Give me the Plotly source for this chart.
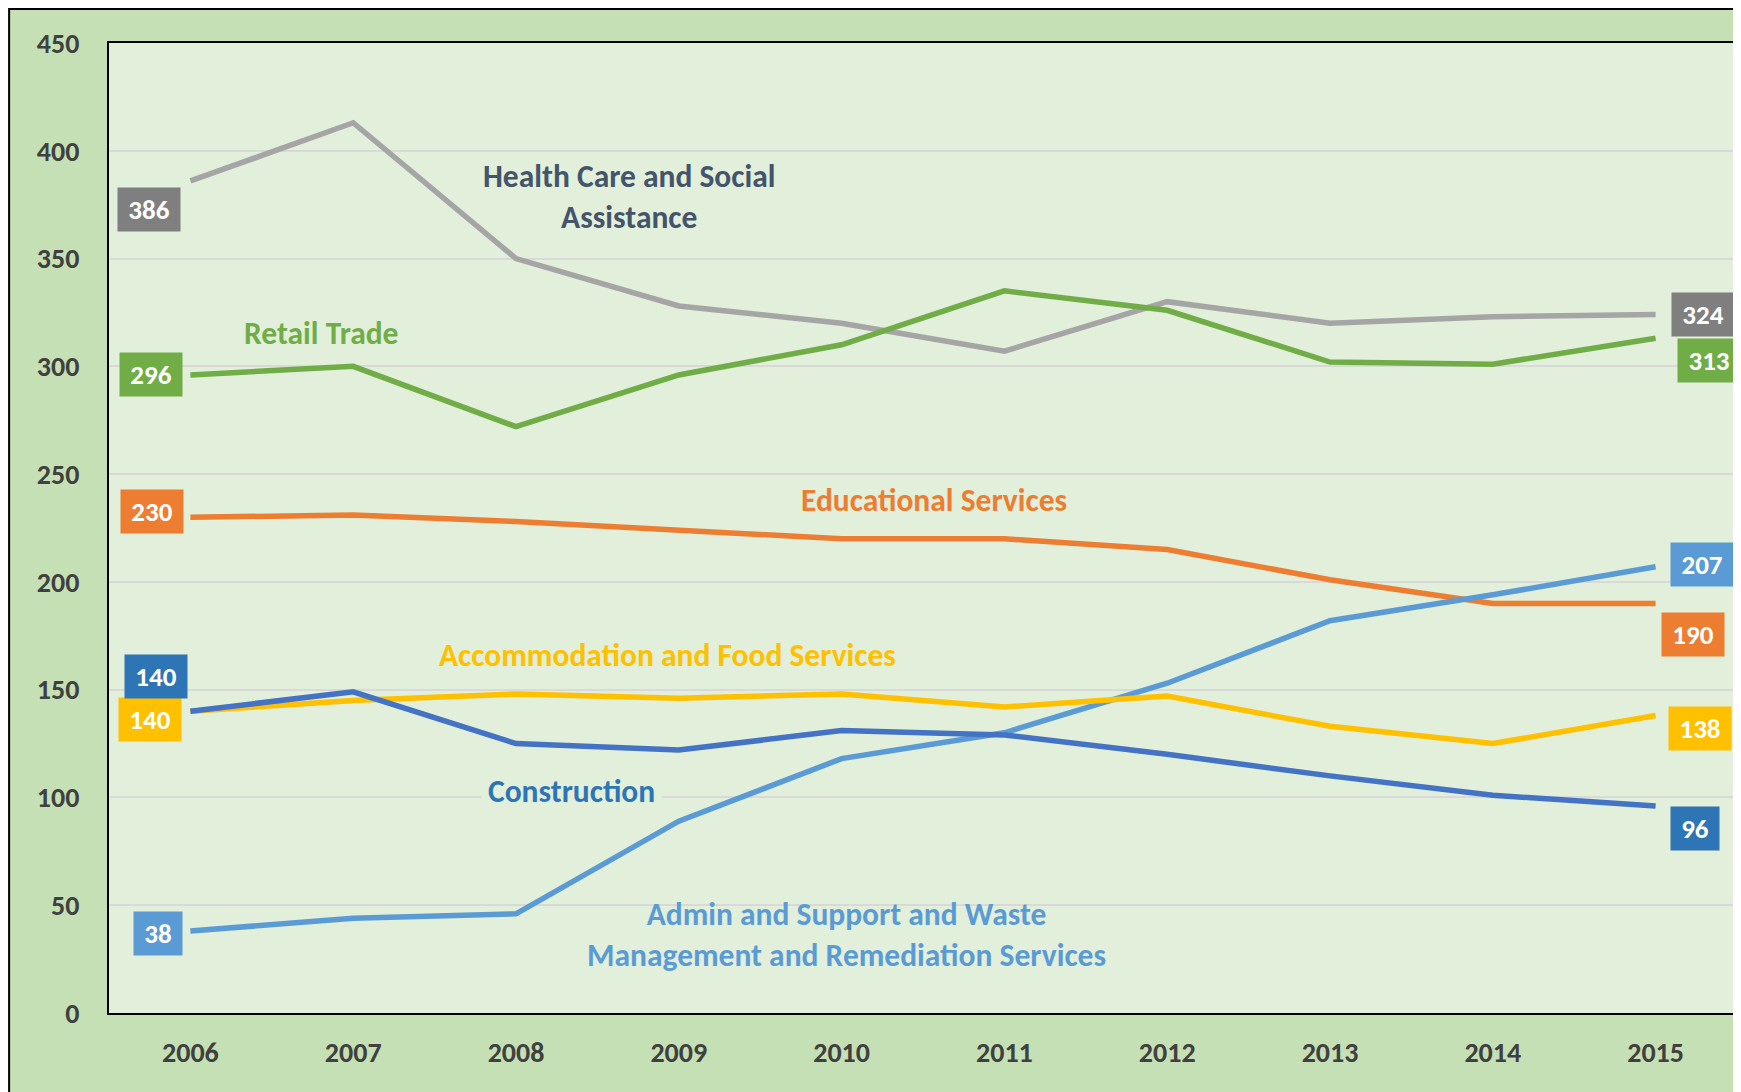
import plotly.graph_objects as go

years = [2006, 2007, 2008, 2009, 2010, 2011, 2012, 2013, 2014, 2015]
health = [386, 413, 350, 328, 320, 307, 330, 320, 323, 324]
retail = [296, 300, 272, 296, 310, 335, 326, 302, 301, 313]
education = [230, 231, 228, 224, 220, 220, 215, 201, 190, 190]
admin = [38, 44, 46, 89, 118, 130, 153, 182, 194, 207]
accommodation = [140, 145, 148, 146, 148, 142, 147, 133, 125, 138]
construction = [140, 149, 125, 122, 131, 129, 120, 110, 101, 96]
y_ticks = [0, 50, 100, 150, 200, 250, 300, 350, 400, 450]

FONT = "Carlito, Calibri, Lato, sans-serif"
W, H = 1741, 1092
ML, MT, MR, MB = 101, 35, 10, 87
PW, PH = W - ML - MR, H - MT - MB

series = [
    ("Health Care and Social Assistance", health, "#A5A5A5", "#7F7F7F"),
    ("Retail Trade", retail, "#70AD47", "#70AD47"),
    ("Educational Services", education, "#ED7D31", "#ED7D31"),
    ("Admin and Support and Waste Management and Remediation Services", admin, "#5B9BD5", "#5B9BD5"),
    ("Accommodation and Food Services", accommodation, "#FFC000", "#FFC000"),
    ("Construction", construction, "#4472C4", "#2E75B6"),
]

fig = go.Figure()
for name, vals, col, _ in series:
    fig.add_trace(go.Scatter(x=years, y=vals, mode="lines", name=name,
                             line=dict(color=col, width=5.5), showlegend=False))

# value label offsets (px) for first and last points
offsets = {
    "Health Care and Social Assistance": ((-41, -29), (47, 0)),
    "Retail Trade": ((-39, 0), (53, -22)),
    "Educational Services": ((-38, 6), (37, -31)),
    "Admin and Support and Waste Management and Remediation Services": ((-32, -2), (46, 2)),
    "Accommodation and Food Services": ((-40, -8), (44, -13)),
    "Construction": ((-34, 35), (39, -22)),
}
annotations = []
for name, vals, col, boxcol in series:
    (lx, ly), (rx, ry) = offsets[name]
    for idx, (dx, dy) in ((0, (lx, ly)), (-1, (rx, ry))):
        v = vals[idx]
        txt = str(v)
        annotations.append(dict(
            x=years[idx], y=v, xref="x", yref="y", text="<b>%s</b>" % txt,
            showarrow=False, xshift=dx, yshift=dy,
            bgcolor=boxcol, width=60 if len(txt) == 3 else 46, height=41,
            font=dict(family=FONT, size=27, color="white"),
            align="center", valign="middle"))

labels = [
    ("Health Care and Social<br>Assistance", 2008.70, 379, "#44546A", None),
    ("Retail Trade", 2006.805, 315.5, "#70AD47", None),
    ("Educational Services", 2010.57, 238, "#ED7D31", None),
    ("Accommodation and Food Services", 2008.93, 166, "#FFC000", None),
    ("Construction", 2008.34, 103, "#2E75B6", "#E2EFDA"),
    ("Admin and Support and Waste<br>Management and Remediation Services", 2010.03, 36.6, "#5B9BD5", None),
]
for text, x, y, col, bg in labels:
    a = dict(x=x, y=y, xref="x", yref="y", text="<b>%s</b>" % text.replace("<br>", "</b><br><b>"),
             showarrow=False, font=dict(family=FONT, size=31.5, color=col),
             align="center")
    if bg:
        a["bgcolor"] = bg
        a["borderpad"] = 6
    annotations.append(a)


def px2paper_x(px):
    return (px - ML) / PW


def px2paper_y(py):
    return (H - MB - py) / PH


shapes = [
    # chart outer border
    dict(type="rect", xref="paper", yref="paper", x0=px2paper_x(1), x1=px2paper_x(W - 1),
         y0=px2paper_y(H - 1), y1=px2paper_y(1), line=dict(color="black", width=2),
         fillcolor="rgba(0,0,0,0)", layer="below"),
]

fig.update_layout(
    width=W, height=H,
    margin=dict(l=ML, r=MR, t=MT, b=MB, pad=0),
    paper_bgcolor="#C5E0B4",
    plot_bgcolor="#E2EFDA",
    font=dict(family=FONT, color="#404040"),
    annotations=annotations,
    shapes=shapes,
    xaxis=dict(range=[2005.5, 2015.5], tickmode="array", tickvals=years,
               ticktext=[str(y) for y in years], showgrid=False, zeroline=False,
               showline=True, linecolor="black", linewidth=2, mirror=True,
               ticks="", ticklabelstandoff=13,
               tickfont=dict(family=FONT, size=28, color="#404040", weight="bold")),
    yaxis=dict(range=[0, 450], tickmode="array", tickvals=y_ticks,
               showgrid=True, gridcolor="#D9D9D9", gridwidth=1.5, zeroline=False,
               showline=True, linecolor="black", linewidth=2, mirror=True,
               ticks="", ticklabelstandoff=22,
               tickfont=dict(family=FONT, size=28, color="#404040", weight="bold")),
)

fig.write_html("out.html")
